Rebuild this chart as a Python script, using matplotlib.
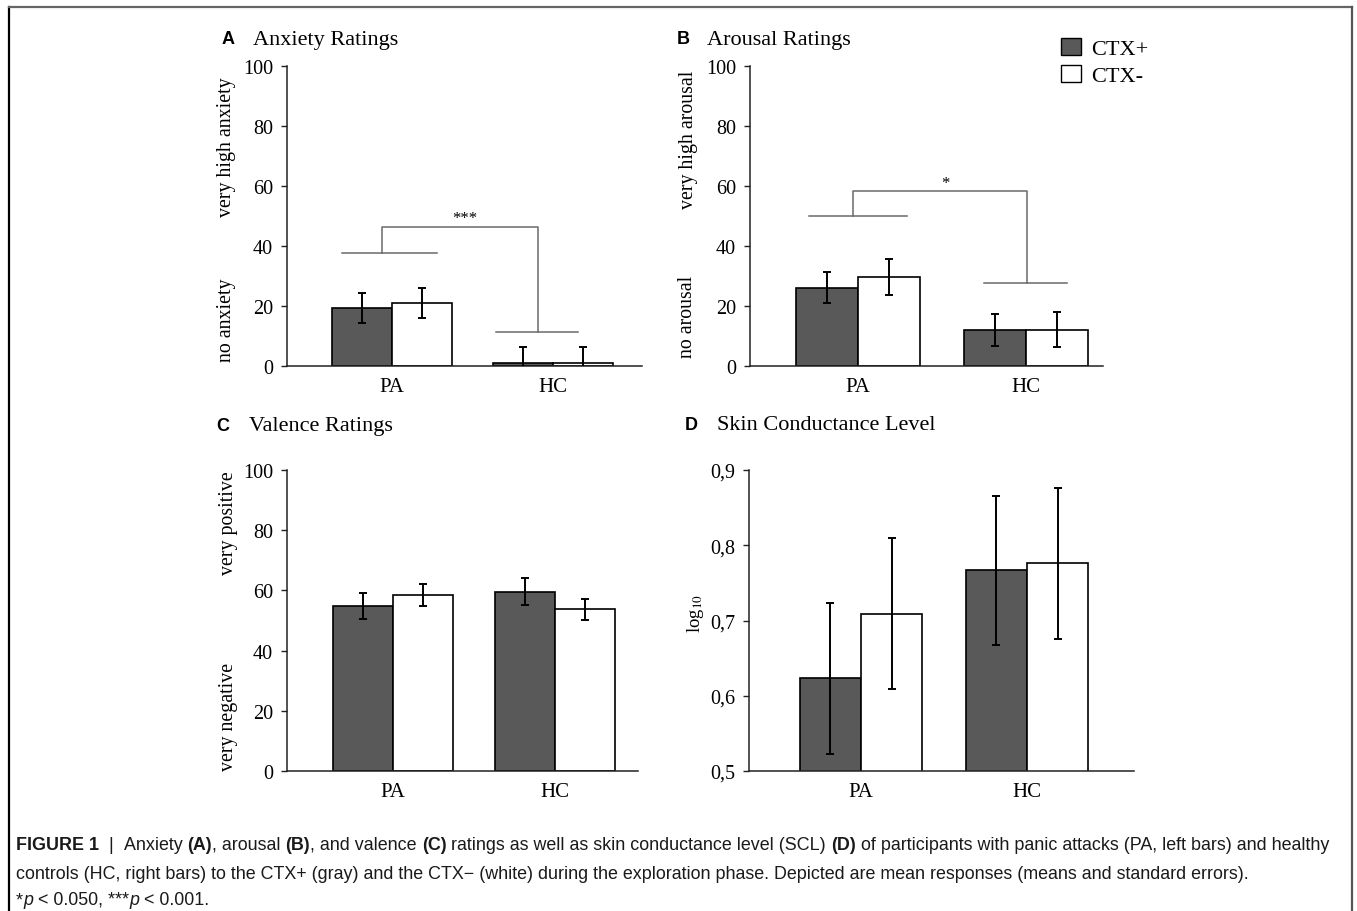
import matplotlib
matplotlib.use("Agg")
import matplotlib.pyplot as plt
from matplotlib.patches import Patch
from matplotlib.lines import Line2D

# ---------------- data ----------------
groups = ["PA", "HC"]
conditions = ["CTX+", "CTX-"]

anx_ctxp = [19.3, 1.0]
anx_ctxp_err = [5.0, 5.2]
anx_ctxm = [20.9, 1.0]
anx_ctxm_err = [5.0, 5.2]

aro_ctxp = [26.1, 12.1]
aro_ctxp_err = [5.2, 5.3]
aro_ctxm = [29.8, 12.1]
aro_ctxm_err = [6.0, 5.8]

val_ctxp = [54.8, 59.6]
val_ctxp_err = [4.3, 4.5]
val_ctxm = [58.5, 53.8]
val_ctxm_err = [3.7, 3.5]

scl_ctxp = [0.623, 0.767]
scl_ctxp_err = [0.100, 0.099]
scl_ctxm = [0.709, 0.776]
scl_ctxm_err = [0.100, 0.100]

rating_ticks = [0, 20, 40, 60, 80, 100]
scl_ticks = [0.5, 0.6, 0.7, 0.8, 0.9]
scl_ticklabels = ["0,5", "0,6", "0,7", "0,8", "0,9"]

# significance brackets
anx_sig = dict(l=(-0.31, 0.28, 37.7), r=(0.646, 1.155, 11.2), top=46.2, xl=-0.06, xr=0.907, star=(0.45, 49.2), txt="***")
aro_sig = dict(l=(-0.29, 0.29, 50.1), r=(0.75, 1.244, 27.7), top=58.2, xl=-0.03, xr=1.006, star=(0.52, 61.0), txt="*")

# ---------------- style ----------------
W, H = 1357, 912
DARK = "#595959"
SERIF = "Liberation Serif"
SANS = "Liberation Sans"
plt.rcParams["font.family"] = SERIF
plt.rcParams["mathtext.fontset"] = "stix"

fig = plt.figure(figsize=(W / 100, H / 100), dpi=100)


def fx(px):
    return px / W


def fy(py):
    return 1 - py / H


def make_ax(left, right, top, bottom, c0, c1):
    ax = fig.add_axes([fx(left), fy(bottom), fx(right - left), (bottom - top) / H])
    ppu = c1 - c0
    ax.set_xlim((left - c0) / ppu, (right - c0) / ppu)
    return ax


BW = 0.37


def draw(ax, a, ae, b, be, ylim, ticks, ticklabels=None):
    x = [0, 1]
    ax.bar([i - BW / 2 for i in x], a, BW, color=DARK, edgecolor="black",
           linewidth=1.2, zorder=2)
    ax.bar([i + BW / 2 for i in x], b, BW, color="white", edgecolor="black",
           linewidth=1.2, zorder=2)
    ax.errorbar([i - BW / 2 for i in x], a, yerr=ae, fmt="none", ecolor="black",
                elinewidth=1.4, capsize=3, capthick=1.4, zorder=3)
    ax.errorbar([i + BW / 2 for i in x], b, yerr=be, fmt="none", ecolor="black",
                elinewidth=1.4, capsize=3, capthick=1.4, zorder=3)
    ax.set_ylim(*ylim)
    ax.set_yticks(ticks)
    if ticklabels is not None:
        ax.set_yticklabels(ticklabels)
    ax.set_xticks(x)
    ax.set_xticklabels(groups)
    for s in ["top", "right"]:
        ax.spines[s].set_visible(False)
    for s in ["left", "bottom"]:
        ax.spines[s].set_linewidth(1.1)
        ax.spines[s].set_color("#222222")
    ax.tick_params(axis="y", length=4, width=1, pad=6, labelsize=14.5, color="#222222")
    ax.tick_params(axis="x", length=0, pad=8, labelsize=15)


def sig(ax, s):
    c = "#6a6a6a"
    lw = 1.1
    ax.plot([s["l"][0], s["l"][1]], [s["l"][2], s["l"][2]], color=c, lw=lw)
    ax.plot([s["r"][0], s["r"][1]], [s["r"][2], s["r"][2]], color=c, lw=lw)
    ax.plot([s["xl"], s["xl"], s["xr"], s["xr"]], [s["l"][2], s["top"], s["top"], s["r"][2]],
            color=c, lw=lw)
    ax.text(s["star"][0], s["star"][1], s["txt"], ha="center", va="center", fontsize=12)


# Panel A
axA = make_ax(287, 642, 67, 367, 392, 553)
draw(axA, anx_ctxp, anx_ctxp_err, anx_ctxm, anx_ctxm_err, (0, 100), rating_ticks)
sig(axA, anx_sig)

# Panel B
axB = make_ax(750, 1103, 67, 367, 858, 1026)
draw(axB, aro_ctxp, aro_ctxp_err, aro_ctxm, aro_ctxm_err, (0, 100), rating_ticks)
sig(axB, aro_sig)

# Panel C
axC = make_ax(287, 638, 471, 772, 393, 555)
draw(axC, val_ctxp, val_ctxp_err, val_ctxm, val_ctxm_err, (0, 100), rating_ticks)

# Panel D
axD = make_ax(749, 1134, 471, 772, 861, 1027)
draw(axD, scl_ctxp, scl_ctxp_err, scl_ctxm, scl_ctxm_err, (0.5, 0.9), scl_ticks, scl_ticklabels)

# titles
titles = [("A", "Anxiety Ratings", 222, 253, 40),
          ("B", "Arousal Ratings", 677, 707, 40),
          ("C", "Valence Ratings", 216, 249, 427),
          ("D", "Skin Conductance Level", 685, 717, 426)]
for letter, t, lx, tx, ty in titles:
    fig.text(fx(lx), fy(ty), letter, family=SANS, fontweight="bold", fontsize=13,
             ha="left", va="center")
    fig.text(fx(tx), fy(ty), t, fontsize=16, ha="left", va="center")

# y labels
ylabels = [("very high anxiety", 227, 147), ("no anxiety", 227, 320),
           ("very high arousal", 688, 140), ("no arousal", 688, 317),
           ("very positive", 228, 523), ("very negative", 228, 717)]
for s, x, y in ylabels:
    fig.text(fx(x), fy(y), s, rotation=90, ha="center", va="center", fontsize=14.3)
fig.text(fx(695), fy(613), r"log$_{10}$", rotation=90, ha="center", va="center", fontsize=13.5)

# legend
handles = [Patch(facecolor=DARK, edgecolor="black", linewidth=1.0),
           Patch(facecolor="white", edgecolor="black", linewidth=1.0)]
fig.legend(handles, conditions, loc="upper left", bbox_to_anchor=(fx(1061), fy(39)),
           bbox_transform=fig.transFigure, frameon=False, fontsize=16,
           handlelength=0.9, handleheight=0.8, handletextpad=0.45,
           labelspacing=0.25, borderpad=0, borderaxespad=0)

# border lines
fig.add_artist(Line2D([fx(9), fx(9)], [fy(8), 0], color="black", lw=1.6, transform=fig.transFigure))
fig.add_artist(Line2D([fx(9), fx(1352)], [fy(8), fy(8)], color="#666666", lw=1.6, transform=fig.transFigure))
fig.add_artist(Line2D([fx(1352), fx(1352)], [fy(8), 0], color="#555555", lw=1.6, transform=fig.transFigure))

# caption
renderer = fig.canvas.get_renderer()
CAP = 12.9


def width_of(s, **kw):
    t1 = fig.text(0, 0, "x" + s + "x", fontsize=CAP, family=SANS, **kw)
    t2 = fig.text(0, 0, "xx", fontsize=CAP, family=SANS, **kw)
    w = t1.get_window_extent(renderer).width - t2.get_window_extent(renderer).width
    t1.remove()
    t2.remove()
    return w


def runs(x0, ybase, parts):
    x = x0
    for s, style in parts:
        kw = {}
        if style == "b":
            kw["fontweight"] = "bold"
        elif style == "i":
            kw["fontstyle"] = "italic"
        fig.text(fx(x), fy(ybase), s, fontsize=CAP, family=SANS, ha="left",
                 va="baseline", color="#1a1a1a", **kw)
        x += width_of(s, **kw)


runs(16, 850, [("FIGURE 1", "b"), ("  |  ", "n"), ("Anxiety ", "n"), ("(A)", "b"),
               (", arousal ", "n"), ("(B)", "b"), (", and valence ", "n"), ("(C)", "b"),
               (" ratings as well as skin conductance level (SCL) ", "n"), ("(D)", "b"),
               (" of participants with panic attacks (PA, left bars) and healthy", "n")])
runs(16, 879, [("controls (HC, right bars) to the CTX+ (gray) and the CTX\u2212 (white) during the "
                "exploration phase. Depicted are mean responses (means and standard errors).", "n")])
runs(16, 905, [("*", "n"), ("p", "i"), (" < 0.050, ***", "n"), ("p", "i"), (" < 0.001.", "n")])

fig.savefig("out.png", dpi=100, facecolor="white")
